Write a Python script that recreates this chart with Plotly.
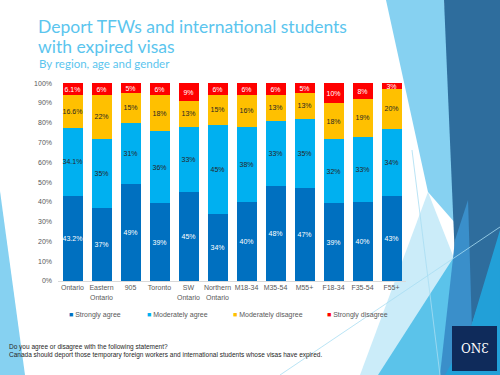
import plotly.graph_objects as go

categories = ["Ontario", "Eastern<br>Ontario", "905", "Toronto", "SW<br>Ontario", "Northern<br>Ontario",
              "M18-34", "M35-54", "M55+", "F18-34", "F35-54", "F55+"]
strongly_agree = [43.2, 37, 49, 39, 45, 34, 40, 48, 47, 39, 40, 43]
moderately_agree = [34.1, 35, 31, 36, 33, 45, 38, 33, 35, 32, 33, 34]
moderately_disagree = [16.6, 22, 15, 18, 13, 15, 16, 13, 13, 18, 19, 20]
strongly_disagree = [6.1, 6, 5, 6, 9, 6, 6, 6, 5, 10, 8, 3]
series_names = ["Strongly agree", "Moderately agree", "Moderately disagree", "Strongly disagree"]
series_values = [strongly_agree, moderately_agree, moderately_disagree, strongly_disagree]
series_colors = ["#0070C0", "#00B0F0", "#FFC000", "#FF0000"]
label_colors = ["#FFFFFF", "#262626", "#262626", "#FFFFFF"]
y_ticks = [0, 10, 20, 30, 40, 50, 60, 70, 80, 90, 100]
y_ticklabels = [f"{t}%" for t in y_ticks]

W, H = 500, 375
ML, MR, MT, MB = 58, 94, 83, 94
PW, PH = W - ML - MR, H - MT - MB


def px(x):
    return (x - ML) / PW


def py(y):
    return (H - MB - y) / PH


def path(points):
    return "M" + " L".join(f"{px(a):.4f},{py(b):.4f}" for a, b in points) + " Z"


fig = go.Figure()
for name, vals, col, lc in zip(series_names, series_values, series_colors, label_colors):
    fig.add_trace(go.Bar(
        x=categories, y=vals, name=name,
        marker=dict(color=col, line=dict(width=0)),
        text=[f"{v}%" for v in vals],
        textposition="inside", insidetextanchor="middle", textangle=0, constraintext="none",
        textfont=dict(size=7, color=lc, family="Liberation Sans"),
        showlegend=False, cliponaxis=False,
    ))

# background decoration (slide theme)
deco = [
    ([(360, 375), (428, 192), (500, 375)], "#CBECF9"),
    ([(386, 0), (444, 0), (470, 240), (428, 192)], "#86D1F1"),
    ([(378, 375), (468, 235), (500, 200), (500, 375)], "#5BC3EA"),
    ([(444, 0), (500, 0), (500, 240), (470, 330), (458, 330)], "#2E6D9D"),
    ([(455, 240), (468, 200), (472, 330), (450, 375), (440, 375)], "#3A8FCA"),
    ([(500, 230), (500, 375), (445, 375), (470, 330)], "#22A0D8"),
    ([(0, 191), (25, 375), (0, 375)], "#86D1F1"),
]
shapes = []
for pts, col in deco:
    shapes.append(dict(type="path", path=path(pts), xref="paper", yref="paper",
                       fillcolor=col, line=dict(width=0), layer="below"))
for (x0, y0, x1, y1) in [(280, 375, 500, 227), (412, 150, 440, 375)]:
    shapes.append(dict(type="line", x0=px(x0), y0=py(y0), x1=px(x1), y1=py(y1),
                       xref="paper", yref="paper", line=dict(color="#A8DDF3", width=0.8), layer="below"))
# logo box
shapes.append(dict(type="rect", x0=px(452), y0=py(326), x1=px(497), y1=py(371),
                   xref="paper", yref="paper", fillcolor="#0F2B5B", line=dict(width=0)))


def note(text, x, y, size, color, family, xanchor="left"):
    return dict(text=text, x=px(x), y=py(y), xanchor=xanchor, yanchor="middle", align="left",
                showarrow=False, xref="paper", yref="paper",
                font=dict(family=family, size=size, color=color))


annotations = [
    note("Deport TFWs and international students", 36, 26, 17.5, "#5BC5EE", "Lato"),
    note("with expired visas", 36, 47, 17.5, "#5BC5EE", "Lato"),
    note("By region, age and gender", 36.5, 64, 11.5, "#5BC5EE", "Lato"),
    note("Do you agree or disagree with the following statement?", 7, 347, 6.5, "#262626", "Liberation Sans"),
    note("Canada should deport those temporary foreign workers and international students whose visas have expired.",
         7, 355, 6.5, "#262626", "Liberation Sans"),
    note("ONƐ", 474.5, 348.5, 12, "#FFFFFF", "DejaVu Serif", xanchor="center"),
]
legend_x = [67, 145, 231, 325]
for name, col, lx in zip(series_names, series_colors, legend_x):
    annotations.append(note(f"<span style='color:{col}'>■</span> {name}", lx, 315, 7, "#595959",
                            "Liberation Sans"))

fig.update_layout(
    width=W, height=H, autosize=False,
    margin=dict(l=ML, r=MR, t=MT, b=MB, pad=0),
    barmode="stack", barnorm="percent", bargap=0.31,
    paper_bgcolor="#FFFFFF", plot_bgcolor="rgba(0,0,0,0)",
    shapes=shapes, annotations=annotations,
    uniformtext=dict(minsize=7, mode="show"),
    xaxis=dict(showgrid=False, showline=True, linecolor="#D9D9D9", linewidth=1, ticks="",
               tickfont=dict(family="Liberation Sans", size=7, color="#595959"), fixedrange=True),
    yaxis=dict(range=[0, 100.05], tickvals=y_ticks, ticktext=y_ticklabels, showgrid=False,
               showline=False, zeroline=False, ticks="", ticklabelstandoff=5,
               tickfont=dict(family="Liberation Sans", size=7, color="#595959"), fixedrange=True),
)

fig.write_html("out.html", config={"displayModeBar": False},
               post_script="document.body.style.margin='0px';")
